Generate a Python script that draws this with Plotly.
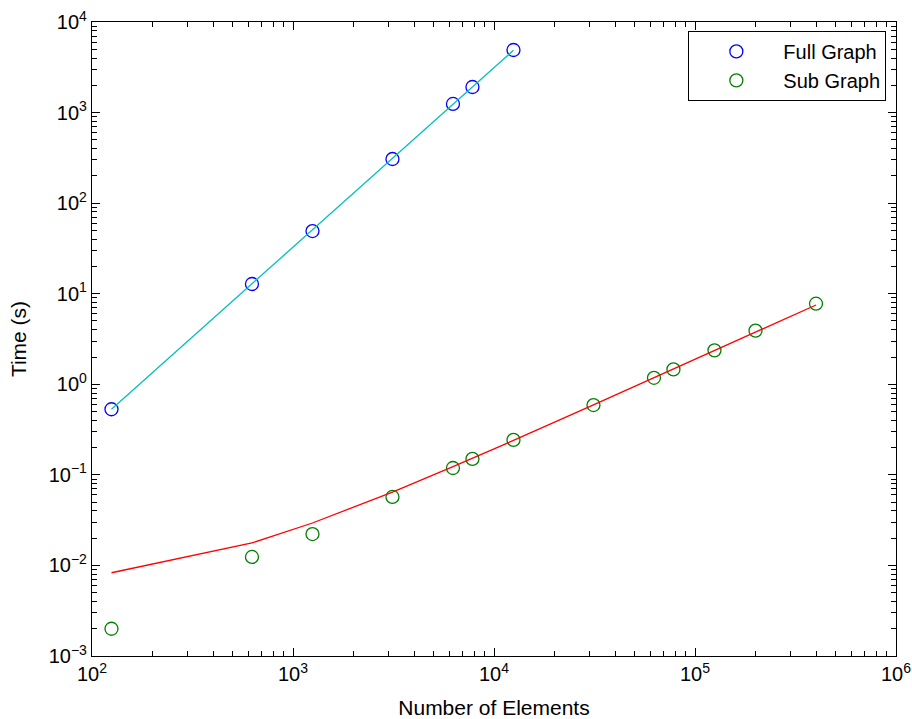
import plotly.graph_objects as go

# Problem sizes (number of elements)
full_n = [125, 625, 1250, 3125, 6250, 7812, 12500]
sub_n = [125, 625, 1250, 3125, 6250, 7812, 12500, 31250, 62500, 78125, 125000, 200000, 400000]

# Measured run times (s)
full_time = [0.53, 12.8, 49.2, 307, 1245, 1916, 4909]
sub_time = [0.0020, 0.0124, 0.0222, 0.057, 0.119, 0.150, 0.243, 0.590, 1.18, 1.46, 2.37, 3.91, 7.76]

# Fitted curves evaluated at the same problem sizes
full_fit = [0.53, 12.9, 50.9, 313, 1235, 1925, 4879]
sub_fit = [0.0083, 0.0177, 0.0294, 0.0646, 0.123, 0.152, 0.240, 0.592, 1.18, 1.47, 2.35, 3.76, 7.51]

# Decades shown on each axis
x_decades = [2, 3, 4, 5, 6]
y_decades = [-3, -2, -1, 0, 1, 2, 3, 4]

FONT = "Liberation Sans, Arial, Helvetica, sans-serif"


def minor_vals(decades):
    vals = []
    for d in decades[:-1]:
        for m in range(2, 10):
            vals.append(m * 10 ** d)
    return vals


def power_labels(decades):
    return ["10<sup>%s</sup>" % (str(d).replace("-", "\u2212")) for d in decades]


fig = go.Figure()

fig.add_trace(go.Scatter(
    x=full_n, y=full_time, mode="markers", name="Full Graph",
    marker=dict(symbol="circle-open", size=13, color="#0000ff", line=dict(width=1.3, color="#0000ff")),
))
fig.add_trace(go.Scatter(
    x=sub_n, y=sub_time, mode="markers", name="Sub Graph",
    marker=dict(symbol="circle-open", size=13, color="#008000", line=dict(width=1.3, color="#008000")),
))
fig.add_trace(go.Scatter(
    x=full_n, y=full_fit, mode="lines", showlegend=False,
    line=dict(color="#00bfbf", width=1.3),
))
fig.add_trace(go.Scatter(
    x=sub_n, y=sub_fit, mode="lines", showlegend=False,
    line=dict(color="#ff0000", width=1.3),
))
# Empty trace that carries the top/right tick axes
fig.add_trace(go.Scatter(x=[], y=[], xaxis="x2", yaxis="y2", showlegend=False, hoverinfo="skip"))

tick_common = dict(
    showgrid=False, zeroline=False, automargin=False,
    showline=True, linecolor="black", linewidth=1.3,
    ticks="inside", ticklen=8, tickwidth=1, tickcolor="black",
)

x_minor = dict(tickvals=minor_vals(x_decades), ticks="inside", ticklen=5, tickwidth=1, tickcolor="black", showgrid=False)
y_minor = dict(tickvals=minor_vals(y_decades), ticks="inside", ticklen=5, tickwidth=1, tickcolor="black", showgrid=False)

fig.update_layout(
    xaxis=dict(
        type="log", range=[2, 6],
        tickvals=[10 ** d for d in x_decades], ticktext=power_labels(x_decades),
        minor=x_minor,
        tickfont=dict(family=FONT, size=20, color="black"),
        title=dict(text="Number of Elements", font=dict(family=FONT, size=21, color="black"), standoff=16),
        **tick_common,
    ),
    yaxis=dict(
        type="log", range=[-3, 4],
        tickvals=[10 ** d for d in y_decades], ticktext=power_labels(y_decades),
        minor=y_minor,
        tickfont=dict(family=FONT, size=20, color="black"),
        title=dict(text="Time (s)", font=dict(family=FONT, size=21, color="black"), standoff=16),
        **tick_common,
    ),
    xaxis2=dict(
        type="log", range=[2, 6], overlaying="x", side="top", anchor="y",
        tickvals=[10 ** d for d in x_decades], showticklabels=False,
        minor=x_minor, **tick_common,
    ),
    yaxis2=dict(
        type="log", range=[-3, 4], overlaying="y", side="right", anchor="x",
        tickvals=[10 ** d for d in y_decades], showticklabels=False,
        minor=y_minor, **tick_common,
    ),
    width=912, height=719,
    margin=dict(l=92, r=16, t=22, b=63),
    paper_bgcolor="white", plot_bgcolor="white",
    font=dict(family=FONT, color="black"),
    legend=dict(
        x=0.988, y=0.986, xanchor="right", yanchor="top",
        bgcolor="white", bordercolor="black", borderwidth=1,
        font=dict(family=FONT, size=20, color="black"),
        itemwidth=84,
    ),
)

fig.write_html("out.html")
